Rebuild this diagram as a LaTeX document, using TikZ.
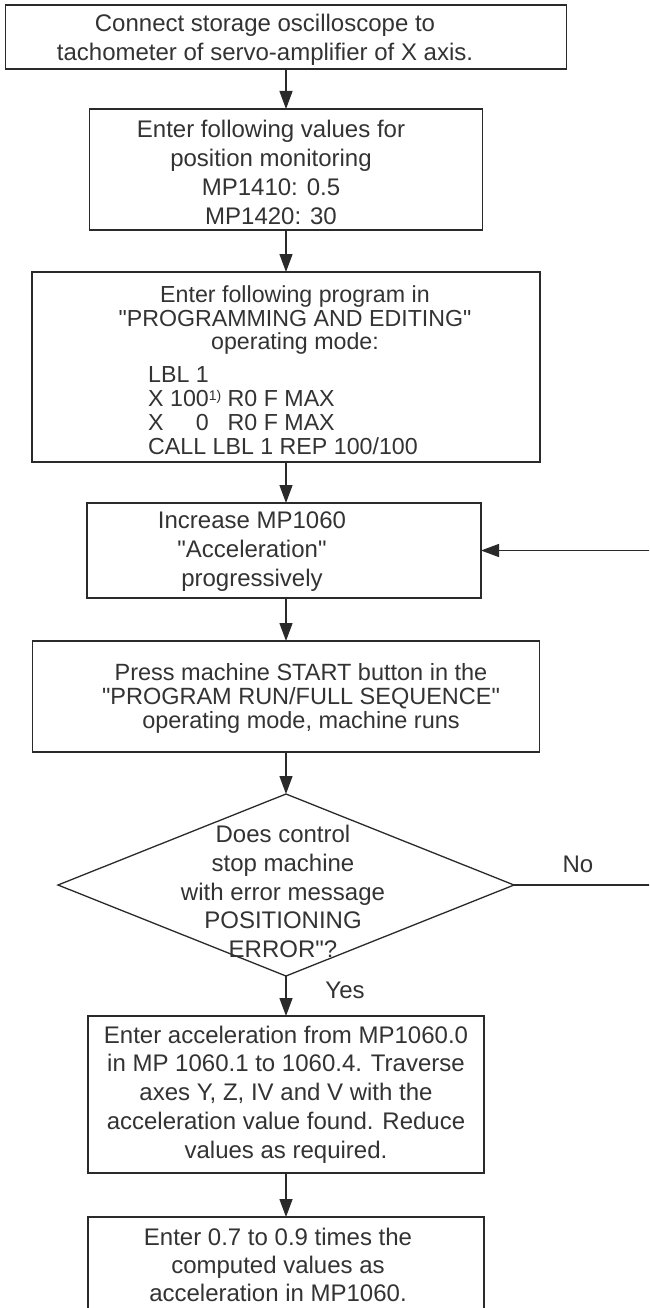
\documentclass[tikz,border=0pt]{standalone}
\usepackage{fontspec}
\setmainfont{Liberation Sans}[Ligatures=TeXOff]
\usetikzlibrary{arrows.meta,shapes.geometric}
\definecolor{lc}{HTML}{2A2A2A}
\definecolor{tc}{HTML}{333333}
\newcommand\dq{\symbol{34}}
\newcommand\fnmark{{\fontsize{14}{14}\selectfont\raisebox{6pt}{1)}}}
\begin{document}
\begin{tikzpicture}[x=1pt,y=-1pt,
  box/.style={draw=lc, line width=1.6pt, rectangle, inner sep=0pt, outer sep=0pt},
  dia/.style={draw=lc, line width=1.3pt, diamond, inner sep=0pt, outer sep=0pt},
  txt/.style={text=tc, align=center, inner sep=0pt, font=\fontsize{24}{28.75}\selectfont},
  arr/.style={draw=lc, line width=1.3pt, -{Triangle[length=18pt,width=13pt]}}]
\path[use as bounding box, clip] (0,0) rectangle (649,1308);
\fill[white] (0,0) rectangle (649,1308);

% boxes
\node[box, minimum width=561pt, minimum height=64pt]  (b1) at (286,37) {};
\node[box, minimum width=393pt, minimum height=121pt] (b2) at (286,169.5) {};
\node[box, minimum width=508pt, minimum height=190pt] (b3) at (286,367) {};
\node[box, minimum width=394pt, minimum height=95pt]  (b4) at (284,550.5) {};
\node[box, minimum width=507pt, minimum height=111pt] (b5) at (286,696.5) {};
\node[dia, minimum width=456pt, minimum height=182pt] (d)  at (286,885) {};
\node[box, minimum width=396pt, minimum height=157pt] (b6) at (286,1094.5) {};
\node[box, minimum width=396pt, minimum height=114pt] (b7) at (286,1274) {};
\coordinate (fb) at (653,0);

% texts
\node[txt] (t1) at (265,40) {Connect storage oscilloscope to\\tachometer of servo-amplifier of X axis.};
\node[txt, font=\fontsize{24}{29}\selectfont] (t2) at (271,172.5) {Enter following values for\\position monitoring\\MP1410: 0.5\\MP1420: 30};
\node[txt, font=\fontsize{23.2}{23.2}\selectfont] (t3a) at (295,320) {Enter following program in\\\dq PROGRAMMING AND EDITING\dq\\operating mode:};
\node[txt, align=left, anchor=west, font=\fontsize{23.2}{24}\selectfont] (t3b) at (148,411) {LBL 1\\X 100\fnmark\ R0 F MAX\\X \phantom{10}0\phantom{\fnmark}\ R0 F MAX\\CALL LBL 1 REP 100/100};
\node[txt, font=\fontsize{24}{29}\selectfont] (t4) at (252,551.5) {Increase MP1060\\\dq Acceleration\dq\\progressively};
\node[txt, font=\fontsize{23.5}{24}\selectfont] (t5) at (301,698) {Press machine START button in the\\\dq PROGRAM RUN/FULL SEQUENCE\dq\\operating mode, machine runs};
\node[txt] (td) at (283,891.5) {Does control\\stop machine\\with error message\\POSITIONING\\ERROR\dq?};
\node[txt] (no) at (578,864) {No};
\node[txt] (yes) at (345,990) {Yes};
\node[txt] (t6) at (286,1094.5) {Enter acceleration from MP1060.0\\in MP 1060.1 to 1060.4. Traverse\\axes Y, Z, IV and V with the\\acceleration value found. Reduce\\values as required.};
\node[txt, font=\fontsize{24}{28}\selectfont] (t7) at (278,1265) {Enter 0.7 to 0.9 times the\\computed values as\\acceleration in MP1060.};

% connectors
\draw[arr] (b1.south) -- (b1.south |- b2.north);
\draw[arr] (b2.south) -- (b2.south |- b3.north);
\draw[arr] (b3.south) -- (b3.south |- b4.north);
\draw[arr] (b3.south |- b4.south) -- (b3.south |- b5.north);
\draw[arr] (b5.south) -- (d.north);
\draw[arr] (d.south) -- (d.south |- b6.north);
\draw[arr] (b6.south) -- (b6.south |- b7.north);
\draw[arr] (d.east) -- (d.east -| fb) |- (b4.east);
\end{tikzpicture}
\end{document}
